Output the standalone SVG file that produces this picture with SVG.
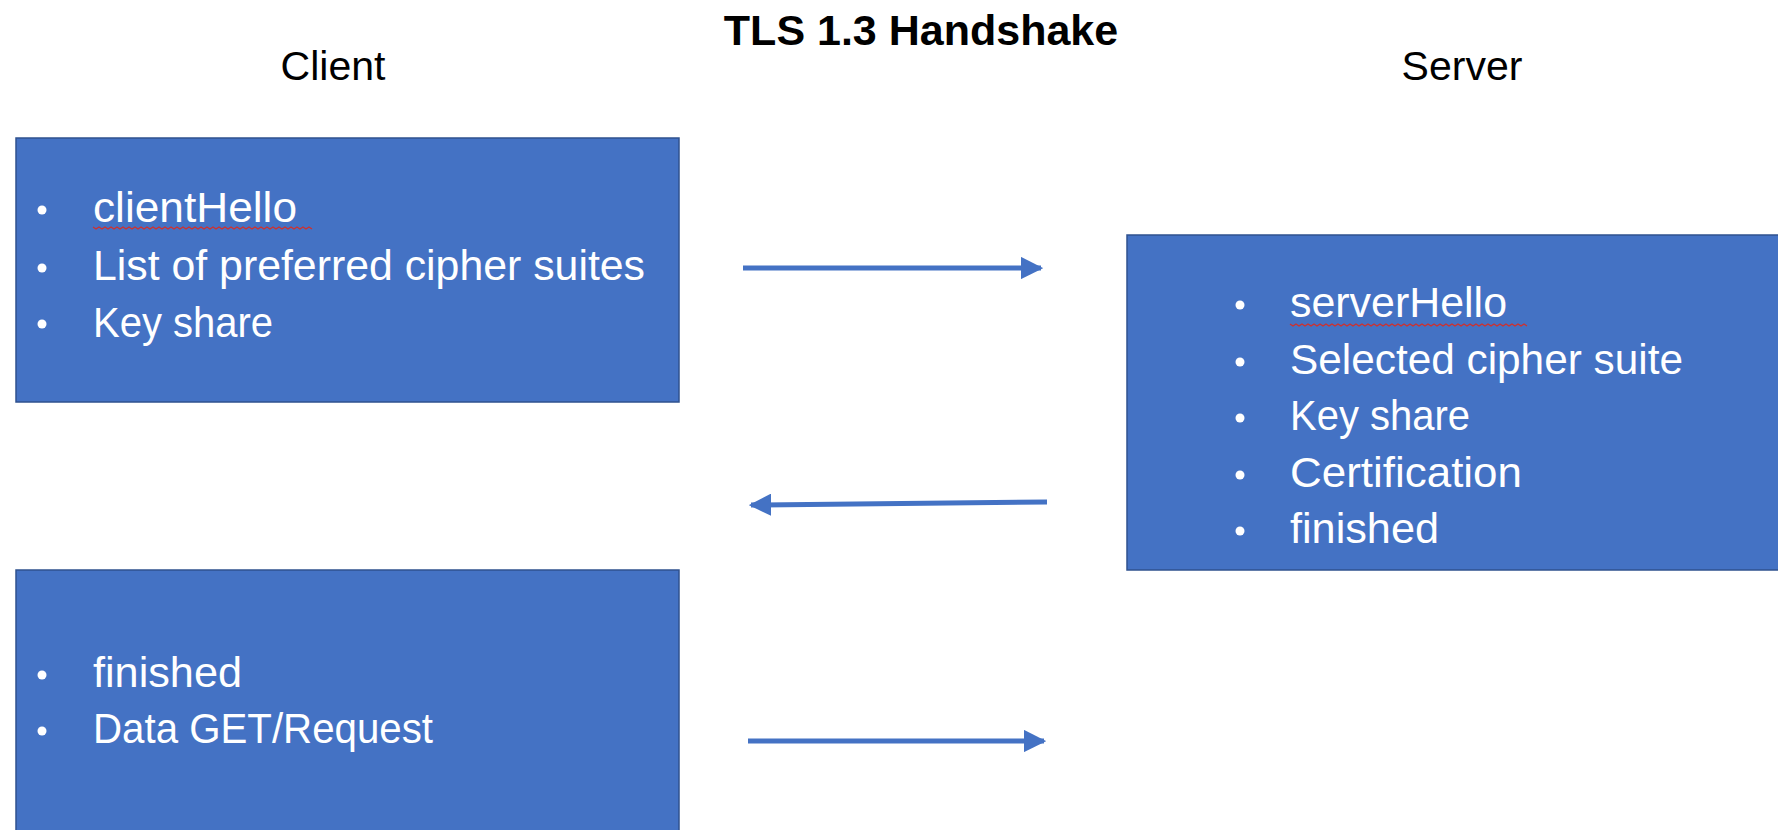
<svg xmlns="http://www.w3.org/2000/svg" width="1778" height="830" viewBox="0 0 1778 830">
<style>
.box{fill:#4472C4;stroke:#2F528F;stroke-width:1.5}
.t{font-family:"Liberation Sans",Arial,sans-serif;fill:#000}
.b{font-family:"Liberation Sans",Arial,sans-serif;font-size:42px;fill:#FFFFFF}
.conn{stroke:#4472C4;stroke-width:5;fill:none}
.sq{stroke:#D0312D;stroke-width:1.3;fill:none}
</style>
<defs>
<marker id="ah" viewBox="0 0 10 10" refX="9" refY="5" markerWidth="4.5" markerHeight="4.5" orient="auto" markerUnits="strokeWidth">
<path d="M0,0 L10,5 L0,10 Z" fill="#4472C4"/>
</marker>
</defs>
<rect width="1778" height="830" fill="#FFFFFF"/>
<g id="title">
<text class="t" x="921" y="45" font-size="43" font-weight="bold" text-anchor="middle">TLS 1.3 Handshake</text>
</g>
<g id="client-label">
<text class="t" x="333" y="80" font-size="41" text-anchor="middle">Client</text>
</g>
<g id="server-label">
<text class="t" x="1462" y="80" font-size="41" text-anchor="middle">Server</text>
</g>
<g id="client-hello">
<rect class="box" x="16" y="138" width="663" height="264"/>
<circle cx="42" cy="210" r="4.5" fill="#FFFFFF"/>
<circle cx="42" cy="268" r="4.5" fill="#FFFFFF"/>
<circle cx="42" cy="324" r="4.5" fill="#FFFFFF"/>
<text class="b" x="93" y="222" textLength="204" lengthAdjust="spacingAndGlyphs">clientHello</text>
<path class="sq" d="M93,227 l3,2 l3,-2 l3,2 l3,-2 l3,2 l3,-2 l3,2 l3,-2 l3,2 l3,-2 l3,2 l3,-2 l3,2 l3,-2 l3,2 l3,-2 l3,2 l3,-2 l3,2 l3,-2 l3,2 l3,-2 l3,2 l3,-2 l3,2 l3,-2 l3,2 l3,-2 l3,2 l3,-2 l3,2 l3,-2 l3,2 l3,-2 l3,2 l3,-2 l3,2 l3,-2 l3,2 l3,-2 l3,2 l3,-2 l3,2 l3,-2 l3,2 l3,-2 l3,2 l3,-2 l3,2 l3,-2 l3,2 l3,-2 l3,2 l3,-2 l3,2 l3,-2 l3,2 l3,-2 l3,2 l3,-2 l3,2 l3,-2 l3,2 l3,-2 l3,2 l3,-2 l3,2 l3,-2 l3,2 l3,-2 l3,2 l3,-2 l3,2"/>
<text class="b" x="93" y="280" textLength="552" lengthAdjust="spacingAndGlyphs">List of preferred cipher suites</text>
<text class="b" x="93" y="337" textLength="180" lengthAdjust="spacingAndGlyphs">Key share</text>
</g>
<g id="server-hello">
<rect class="box" x="1127" y="235" width="660" height="335"/>
<circle cx="1240" cy="305" r="4.5" fill="#FFFFFF"/>
<circle cx="1240" cy="362" r="4.5" fill="#FFFFFF"/>
<circle cx="1240" cy="418" r="4.5" fill="#FFFFFF"/>
<circle cx="1240" cy="475" r="4.5" fill="#FFFFFF"/>
<circle cx="1240" cy="531" r="4.5" fill="#FFFFFF"/>
<text class="b" x="1290" y="317" textLength="217" lengthAdjust="spacingAndGlyphs">serverHello</text>
<path class="sq" d="M1290,324 l3,2 l3,-2 l3,2 l3,-2 l3,2 l3,-2 l3,2 l3,-2 l3,2 l3,-2 l3,2 l3,-2 l3,2 l3,-2 l3,2 l3,-2 l3,2 l3,-2 l3,2 l3,-2 l3,2 l3,-2 l3,2 l3,-2 l3,2 l3,-2 l3,2 l3,-2 l3,2 l3,-2 l3,2 l3,-2 l3,2 l3,-2 l3,2 l3,-2 l3,2 l3,-2 l3,2 l3,-2 l3,2 l3,-2 l3,2 l3,-2 l3,2 l3,-2 l3,2 l3,-2 l3,2 l3,-2 l3,2 l3,-2 l3,2 l3,-2 l3,2 l3,-2 l3,2 l3,-2 l3,2 l3,-2 l3,2 l3,-2 l3,2 l3,-2 l3,2 l3,-2 l3,2 l3,-2 l3,2 l3,-2 l3,2 l3,-2 l3,2 l3,-2 l3,2 l3,-2 l3,2 l3,-2 l3,2"/>
<text class="b" x="1290" y="374" textLength="393" lengthAdjust="spacingAndGlyphs">Selected cipher suite</text>
<text class="b" x="1290" y="430" textLength="180" lengthAdjust="spacingAndGlyphs">Key share</text>
<text class="b" x="1290" y="487" textLength="232" lengthAdjust="spacingAndGlyphs">Certification</text>
<text class="b" x="1290" y="543" textLength="149" lengthAdjust="spacingAndGlyphs">finished</text>
</g>
<g id="client-finished">
<rect class="box" x="16" y="570" width="663" height="270"/>
<circle cx="42" cy="675" r="4.5" fill="#FFFFFF"/>
<circle cx="42" cy="731" r="4.5" fill="#FFFFFF"/>
<text class="b" x="93" y="687" textLength="149" lengthAdjust="spacingAndGlyphs">finished</text>
<text class="b" x="93" y="743" textLength="340" lengthAdjust="spacingAndGlyphs">Data GET/Request</text>
</g>
<g id="connectors">
<line class="conn" x1="743" y1="268" x2="1041" y2="268" marker-end="url(#ah)"/>
<line class="conn" x1="1047" y1="502" x2="751" y2="505" marker-end="url(#ah)"/>
<line class="conn" x1="748" y1="741" x2="1044" y2="741" marker-end="url(#ah)"/>
</g>
</svg>
